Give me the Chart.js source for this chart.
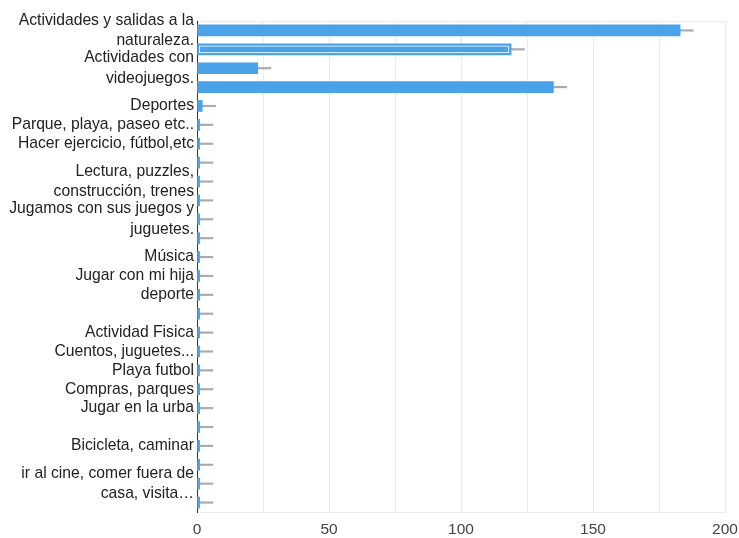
<!DOCTYPE html>
<html>
<head>
<meta charset="utf-8">
<script src="https://cdn.jsdelivr.net/npm/chart.js@4.4.1/dist/chart.umd.min.js"></script>
<style>
  body { margin: 0; background: #fff; }
  #wrap { width: 739px; height: 538px; position: relative; }
</style>
</head>
<body>
<div id="wrap"><canvas id="activities"></canvas></div>
<script>
// rows of the chart, top to bottom ('' = row without a visible label)
var activityLabels = [
  ["Actividades y salidas a la", "naturaleza."],
  "",
  ["Actividades con", "videojuegos."],
  "",
  "Deportes",
  "Parque, playa, paseo etc..",
  "Hacer ejercicio, fútbol,etc",
  "",
  ["Lectura, puzzles,", "construcción, trenes"],
  "",
  ["Jugamos con sus juegos y", "juguetes."],
  "",
  "Música",
  "Jugar con mi hija",
  "deporte",
  "",
  "Actividad Fisica",
  "Cuentos, juguetes...",
  "Playa futbol",
  "Compras, parques",
  "Jugar en la urba",
  "",
  "Bicicleta, caminar",
  "",
  ["ir al cine, comer fuera de", "casa, visita…"],
  ""
]
var activityCounts = [183, 119, 23, 135, 2, 1, 1, 1, 1, 1, 1, 1, 1, 1, 1, 1, 1, 1, 1, 1, 1, 1, 1, 1, 1, 1]
var xTickValues = [0, 50, 100, 150, 200]

var highlightRow = 1
var whisker = 5
var barBlue = "#4aa3e8"

var whiskerData = activityCounts.map(function(v) { return [v, v + whisker] })
var highlightData = activityCounts.map(function(v, i) {
  return i == highlightRow ? [0.9, v - 0.8] : null
})

var family = "'Liberation Sans', Arial, sans-serif"

new Chart("activities", {
  type: "bar",
  data: {
    labels: activityLabels,
    datasets: [
      {
        label: "selected",
        data: highlightData,
        backgroundColor: barBlue,
        borderColor: "#ffffff",
        borderWidth: 1,
        borderSkipped: false,
        barThickness: 7,
        grouped: false,
        order: 0,
      },
      {
        label: "Respuestas",
        data: activityCounts,
        backgroundColor: barBlue,
        barThickness: 11,
        grouped: false,
        order: 1,
      },
      {
        label: "whisker",
        data: whiskerData,
        backgroundColor: "#aaaaaa",
        barThickness: 1.5,
        grouped: false,
        order: 2,
      },
    ],
  },
  options: {
    indexAxis: "y",
    responsive: true,
    maintainAspectRatio: false,
    animation: false,
    plugins: {
      legend: false,
      tooltip: { enabled: false },
    },
    layout: {
      padding: { top: 21, right: 14, bottom: 2, left: 0 },
    },
    scales: {
      x: {
        min: 0,
        max: 200,
        afterFit: function(scale) {
          scale.height = 24
          scale.paddingLeft = 0
          scale.paddingRight = 0
        },
        ticks: {
          stepSize: 25,
          padding: 8,
          color: "#444",
          font: { family: family, size: 15.5 },
          callback: function(v) { return xTickValues.indexOf(v) >= 0 ? v : "" },
        },
        grid: {
          color: "#ebebeb",
          drawTicks: false,
        },
        border: { display: true, color: "#ebebeb" },
      },
      x2: {
        position: "top",
        min: 0,
        max: 200,
        ticks: { display: false },
        grid: { display: false, drawTicks: false },
        border: { display: true, color: "#ebebeb" },
      },
      y: {
        z: 1,
        afterFit: function(scale) { scale.width = 197 },
        ticks: {
          padding: 3,
          color: "#222",
          autoSkip: false,
          font: { family: family, size: 15.7, lineHeight: 1.3 },
        },
        grid: { display: false, drawTicks: false },
        border: { display: true, color: "#333" },
      },
    },
  },
});
</script>
</body>
</html>
